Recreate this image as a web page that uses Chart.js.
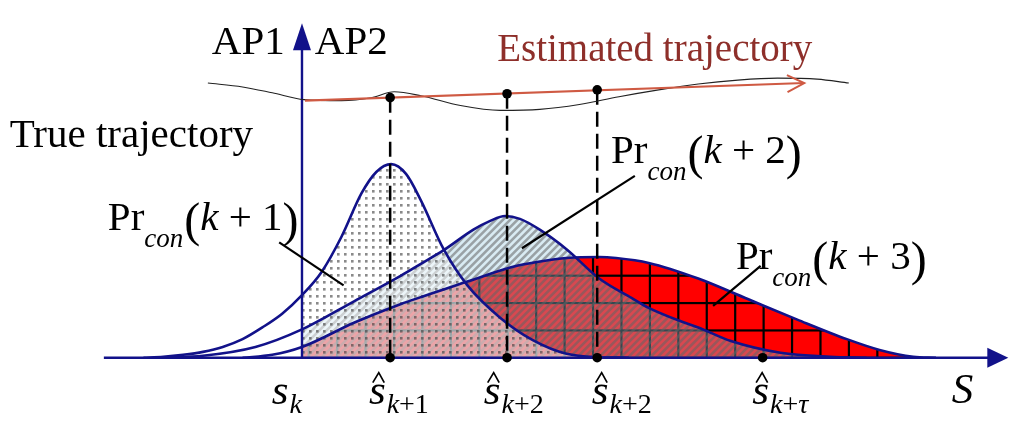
<!DOCTYPE html>
<html>
<head>
<meta charset="utf-8">
<script src="https://cdn.jsdelivr.net/npm/chart.js@4.4.1/dist/chart.umd.min.js"></script>
<style>
  html, body { margin: 0; padding: 0; background: #fff; }
  #wrap { width: 1024px; height: 429px; position: relative; }
</style>
</head>
<body>
<div id="wrap"><canvas id="chart"></canvas></div>
<script>
// position along S and height above the S axis
const s1 = [140, 160, 180, 200, 220, 240, 260, 280, 300, 320, 340, 360, 375, 390, 405, 420, 443, 467, 500, 533, 567, 600, 630];
const pr1 = [0, 1, 3, 6, 11, 19, 31, 45, 64, 88, 124, 168, 190, 198, 188, 161, 111, 74, 41, 18, 4, 0.5, 0];

const s2 = [160, 200, 253, 300, 353, 400, 420, 443, 473, 490, 505, 520, 540, 567, 600, 633, 650, 683, 700, 733, 783, 833, 870];
const pr2 = [0, 2, 11, 29, 58, 84, 96, 110, 131, 140, 145, 142, 131, 111, 81, 61, 51, 37, 31, 17, 5, 1, 0];

const s3 = [240, 270, 300, 353, 400, 420, 467, 517, 550, 567, 600, 617, 650, 700, 750, 800, 850, 883, 917, 940];
const pr3 = [0, 3, 11, 36, 55, 62, 78, 94, 100, 102, 103, 102, 97, 81, 60, 39, 19, 8, 1, 0];

const trueS = [205, 240, 270, 302, 340, 370, 393, 420, 460, 500, 540, 580, 620, 660, 700, 740, 780, 820, 852];
const trueY = [281, 277, 271, 264, 263, 266, 272, 268, 258, 253, 254, 259, 267, 274, 280, 284, 286, 285, 281];

const estS = [303, 807];
const estY = [263, 281];

const markS = [389, 507, 598];
const markTop = [266, 270, 274];
const baseDotS = [389, 507, 598, 765];
const baseDotY = [0, 0, 0, 0];

const tickS = [278, 376, 492, 601, 763];
const tickHat = [false, true, true, true, true];
const tickSub = ["k", "k+1", "k+2", "k+2", "k+\u03c4"];

const apS = 300;           // AP1 / AP2 boundary
const axisS = [100, 1013]; // S axis start, arrow tip
const axisH = [0, 342];    // vertical axis start, arrow tip

const SERIF = '"Liberation Serif", "Times New Roman", serif';
const NAVY = "#12128a";

const pts = (xs, ys) => xs.map((x, i) => ({ x: x, y: ys[i] }));

// hatch fills, only on the AP2 side of the vertical axis
const fillCache = {};
function makeFill(chart, kind) {
  const w = chart.width, h = chart.height;
  const key = kind + w + "x" + h;
  if (fillCache[key]) return fillCache[key];
  const sx = v => chart.scales.x.getPixelForValue(v);
  const sy = v => chart.scales.y.getPixelForValue(v);
  const cut = sx(apS);
  const c = document.createElement("canvas");
  c.width = w; c.height = h;
  const g = c.getContext("2d");
  g.beginPath(); g.rect(cut, 0, w - cut, h); g.clip();
  if (kind === "grid") {
    g.fillStyle = "#ff0000";
    g.fillRect(0, 0, w, h);
    g.fillStyle = "#000";
    const step = sx(28.7) - sx(0);
    for (let x = sx(565) - step * 12; x < w; x += step) g.fillRect(x - 1, 0, 2.2, h);
    const rstep = sy(0) - sy(28);
    for (let y = sy(84) - rstep * 6; y < h; y += rstep) g.fillRect(0, y - 1, w, 2.2);
  } else if (kind === "stripes") {
    g.fillStyle = "rgba(150,200,222,0.36)";
    g.fillRect(0, 0, w, h);
    g.strokeStyle = "rgba(100,100,100,0.55)";
    g.lineWidth = 2.5;
    for (let x = -h; x < w + h; x += 7.3) {
      g.beginPath(); g.moveTo(x, h); g.lineTo(x + h, 0); g.stroke();
    }
  } else {
    g.fillStyle = "rgba(255,255,255,0.5)";
    g.fillRect(0, 0, w, h);
    g.fillStyle = "rgba(60,60,60,0.6)";
    for (let x = 1; x < w; x += 7) {
      for (let y = 1; y < h; y += 7) g.fillRect(x, y, 2.6, 2.6);
    }
  }
  const p = chart.ctx.createPattern(c, "no-repeat");
  fillCache[key] = p;
  return p;
}
const fillFor = kind => ctx => {
  const chart = ctx.chart;
  if (!chart.chartArea || !chart.scales.x) return "rgba(0,0,0,0)";
  return makeFill(chart, kind);
};

function drawParts(ctx, x, y, parts) {
  ctx.textAlign = "left";
  ctx.textBaseline = "alphabetic";
  parts.forEach(p => {
    ctx.font = p.f;
    ctx.fillText(p.t, x, y + (p.dy || 0));
    x += ctx.measureText(p.t).width + (p.gap || 0);
  });
}

function prLabel(n) {
  return [
    { t: "Pr", f: "41px " + SERIF },
    { t: "con", f: "italic 27px " + SERIF, dy: 17, gap: 1 },
    { t: "(", f: "48px " + SERIF, dy: 6 },
    { t: "k", f: "italic 41px " + SERIF },
    { t: " + ", f: "41px " + SERIF },
    { t: n, f: "41px " + SERIF },
    { t: ")", f: "48px " + SERIF, dy: 6 }
  ];
}

const decor = {
  id: "decor",
  beforeDatasetsDraw(chart) {
    const ctx = chart.ctx;
    const sx = v => chart.scales.x.getPixelForValue(v);
    const sy = v => chart.scales.y.getPixelForValue(v);
    ctx.save();
    ctx.strokeStyle = NAVY;
    ctx.fillStyle = NAVY;
    ctx.lineWidth = 2.4;
    const y0 = sy(0), tipX = sx(axisS[1]);
    ctx.beginPath(); ctx.moveTo(sx(axisS[0]), y0); ctx.lineTo(tipX - 18, y0); ctx.stroke();
    ctx.beginPath(); ctx.moveTo(tipX, y0); ctx.lineTo(tipX - 21, y0 - 10); ctx.lineTo(tipX - 21, y0 + 10); ctx.closePath(); ctx.fill();
    const x0 = sx(apS), tipY = sy(axisH[1]);
    ctx.beginPath(); ctx.moveTo(x0, sy(axisH[0])); ctx.lineTo(x0, tipY + 20); ctx.stroke();
    ctx.beginPath(); ctx.moveTo(x0, tipY); ctx.lineTo(x0 - 9, tipY + 27); ctx.lineTo(x0 + 9, tipY + 27); ctx.closePath(); ctx.fill();
    ctx.restore();
  },
  afterDatasetsDraw(chart) {
    const ctx = chart.ctx;
    const sx = v => chart.scales.x.getPixelForValue(v);
    const sy = v => chart.scales.y.getPixelForValue(v);
    ctx.save();

    // open arrow head on the estimated trajectory
    const tx = sx(estS[1]), ty = sy(estY[1]);
    const ang = Math.atan2(ty - sy(estY[0]), tx - sx(estS[0]));
    ctx.strokeStyle = "#cf5a43";
    ctx.lineWidth = 2;
    ctx.beginPath();
    ctx.moveTo(tx + 19 * Math.cos(ang + Math.PI - 0.46), ty + 19 * Math.sin(ang + Math.PI - 0.46));
    ctx.lineTo(tx, ty);
    ctx.lineTo(tx + 19 * Math.cos(ang + Math.PI + 0.46), ty + 19 * Math.sin(ang + Math.PI + 0.46));
    ctx.stroke();

    // leader lines
    ctx.strokeStyle = "#000";
    ctx.lineWidth = 2.2;
    [[277, 118, 342, 74], [636, 186, 522, 112], [763, 94, 715, 53]].forEach(l => {
      ctx.beginPath(); ctx.moveTo(sx(l[0]), sy(l[1])); ctx.lineTo(sx(l[2]), sy(l[3])); ctx.stroke();
    });

    ctx.fillStyle = "#000";
    ctx.textBaseline = "alphabetic";
    ctx.textAlign = "left";
    ctx.font = "41px " + SERIF;
    ctx.fillText("AP1", sx(209), sy(311));
    ctx.fillText("AP2", sx(313), sy(311));
    ctx.fillText("True trajectory", sx(5), sy(216));
    ctx.fillStyle = "#8e2f2a";
    ctx.font = "39px " + SERIF;
    ctx.fillText("Estimated trajectory", sx(497), sy(304));
    ctx.fillStyle = "#000";
    ctx.font = "italic 43px " + SERIF;
    ctx.fillText("S", sx(956), sy(-46));

    drawParts(ctx, sx(104), sy(131), prLabel("1"));
    drawParts(ctx, sx(612), sy(199), prLabel("2"));
    drawParts(ctx, sx(738), sy(91), prLabel("3"));

    // tick labels under the S axis
    tickS.forEach((s, i) => {
      const cx = sx(s), by = sy(-47);
      ctx.font = "italic 43px " + SERIF;
      ctx.textAlign = "center";
      ctx.fillText("s", cx, by);
      const half = ctx.measureText("s").width / 2;
      if (tickHat[i]) {
        ctx.lineWidth = 1.7;
        ctx.beginPath();
        ctx.moveTo(cx - 4.5, by - 21); ctx.lineTo(cx + 1.5, by - 31); ctx.lineTo(cx + 7, by - 21);
        ctx.stroke();
      }
      const sub = tickSub[i];
      const parts = [{ t: sub[0], f: "italic 28px " + SERIF }];
      if (sub.length > 1) {
        parts.push({ t: sub[1], f: "28px " + SERIF });
        const last = sub.slice(2);
        parts.push({ t: last, f: (last === "\u03c4" ? "italic " : "") + "28px " + SERIF });
      }
      drawParts(ctx, cx + half + 1, by + 9, parts);
    });
    ctx.restore();
  }
};

const curveLine = {
  borderColor: NAVY,
  borderWidth: 2.6,
  pointRadius: 0,
  cubicInterpolationMode: "monotone",
  fill: "origin"
};

new Chart(document.getElementById("chart").getContext("2d"), {
  type: "line",
  data: {
    datasets: [
      { label: "marks", data: pts(markS, markTop), showLine: false, pointRadius: 4.8, pointBackgroundColor: "#000", pointBorderWidth: 0, fill: false },
      { label: "marks on S", data: pts(baseDotS, baseDotY), showLine: false, pointRadius: 4.8, pointBackgroundColor: "#000", pointBorderWidth: 0, fill: false },
      { label: "Estimated trajectory", data: pts(estS, estY), borderColor: "#cf5a43", borderWidth: 2.2, pointRadius: 0, fill: false },
      { label: "True trajectory", data: pts(trueS, trueY), borderColor: "#222", borderWidth: 1.1, pointRadius: 0, cubicInterpolationMode: "monotone", fill: false },
      ...markS.map((s, i) => ({
        label: "guide " + (i + 1),
        data: [{ x: s, y: markTop[i] }, { x: s, y: 0 }],
        borderColor: "#000", borderWidth: 2.5, borderDash: [15, 7], pointRadius: 0, fill: false
      })),
      { label: "Pr_con(k+1)", data: pts(s1, pr1), ...curveLine, backgroundColor: fillFor("dots") },
      { label: "Pr_con(k+2)", data: pts(s2, pr2), ...curveLine, backgroundColor: fillFor("stripes") },
      { label: "Pr_con(k+3)", data: pts(s3, pr3), ...curveLine, backgroundColor: fillFor("grid") }
    ]
  },
  options: {
    responsive: true,
    maintainAspectRatio: false,
    animation: false,
    events: [],
    layout: { padding: 0 },
    scales: {
      x: { type: "linear", min: 0, max: 1024, display: false },
      y: { type: "linear", min: -68, max: 361, display: false }
    },
    plugins: {
      legend: { display: false },
      tooltip: { enabled: false },
      filler: { drawTime: "beforeDatasetsDraw", propagate: false }
    }
  },
  plugins: [decor]
});
</script>
</body>
</html>
